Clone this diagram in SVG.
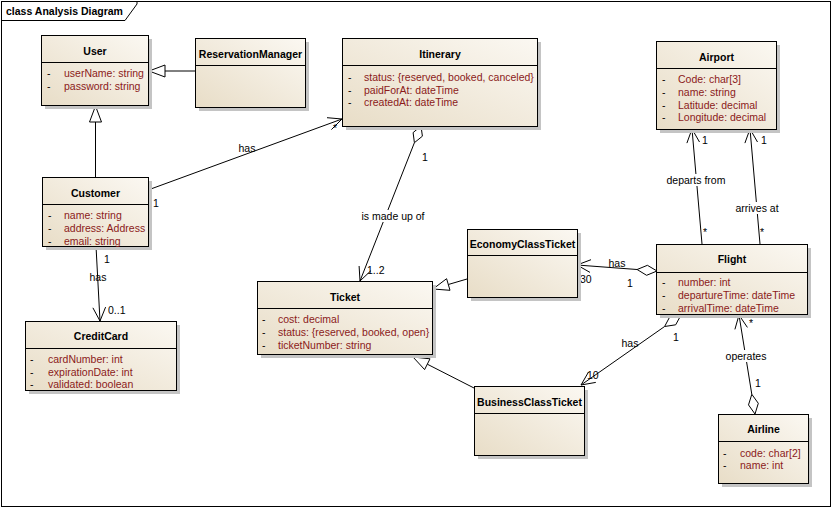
<svg xmlns="http://www.w3.org/2000/svg" width="833" height="509" viewBox="0 0 833 509">
<style>
text{font-family:"Liberation Sans",Arial,sans-serif;font-size:10.5px;fill:#000}
.t{font-weight:bold;text-anchor:middle}
.a{fill:#8B1A1A}
.box{fill:url(#g);stroke:#000;stroke-width:1}
.sh{fill:#C4C4C4}
.div{stroke:#000;stroke-width:1}
.ln{stroke:#000;stroke-width:1;fill:none}
.gen{fill:#fff;stroke:#000;stroke-width:1}
.agg{fill:#fff;stroke:#000;stroke-width:1}
.lbl{text-anchor:middle}
.bg{fill:#fff}
</style>
<defs>
<linearGradient id="g" x1="0" y1="1" x2="1" y2="0">
<stop offset="0" stop-color="#E8DDC7"/>
<stop offset="1" stop-color="#FBF8F2"/>
</linearGradient>
</defs>
<rect x="0" y="0" width="833" height="509" fill="#fff"/>
<g id="frame">
<rect x="1.5" y="1.5" width="829" height="505" fill="none" stroke="#000"/>
<polyline points="1.5,20.5 125,20.5 137,4 137,1.5" fill="none" stroke="#000"/>
<text x="6" y="15" font-weight="bold">class Analysis Diagram</text>
</g>
<g id="connectors">
<!-- ReservationManager -> User -->
<line class="ln" x1="195" y1="71" x2="165" y2="71"/>
<polygon class="gen" points="149,71 165,65 165,77"/>
<!-- Customer -> User -->
<line class="ln" x1="95.5" y1="177" x2="95.5" y2="122"/>
<polygon class="gen" points="95.5,106 89.5,122 101.5,122"/>
<!-- Customer -> Itinerary has -->
<line class="ln" x1="148" y1="190" x2="342" y2="119"/>
<polyline class="ln" points="327,117.7 342,119 331.4,129.6"/>
<text class="lbl" x="247" y="152">has</text>
<text x="153" y="207">1</text>
<text x="333" y="132">*</text>
<!-- Customer -> CreditCard has -->
<line class="ln" x1="96" y1="246" x2="100" y2="321"/>
<polyline class="ln" points="92.9,307.8 100,321 105.6,307.1"/>
<text x="104" y="263">1</text>
<text class="lbl" x="98" y="281">has</text>
<text x="108" y="314">0..1</text>
<!-- Itinerary -> Ticket is made up of -->
<line class="ln" x1="414.4" y1="142.7" x2="360" y2="281"/>
<polygon class="agg" points="421,126 422.4,136.2 414.4,142.7 413.1,132.6"/>
<polyline class="ln" points="359.1,266 360,281 370.9,270.7"/>
<rect class="bg" x="361" y="210" width="64" height="12"/>
<text class="lbl" x="393" y="220">is made up of</text>
<text x="422" y="161">1</text>
<text x="367" y="274">1..2</text>
<!-- EconomyClassTicket -> Ticket -->
<line class="ln" x1="467" y1="279" x2="448.3" y2="284.5"/>
<polygon class="gen" points="433,289 446.6,278.7 450,290.3"/>
<!-- BusinessClassTicket -> Ticket -->
<line class="ln" x1="474" y1="388" x2="427.3" y2="364.2"/>
<polygon class="gen" points="413,357 430,358.8 424.6,369.6"/>
<!-- Flight -> EconomyClassTicket has -->
<line class="ln" x1="637.1" y1="269.5" x2="577" y2="265"/>
<polygon class="agg" points="657,271 647.4,265.3 637.1,269.5 646.6,275.3"/>
<polyline class="ln" points="591,259.7 577,265 590,272.4"/>
<text class="lbl" x="617" y="267">has</text>
<text x="580" y="283">30</text>
<text x="627" y="287">1</text>
<!-- Flight -> BusinessClassTicket has -->
<line class="ln" x1="664.6" y1="326.5" x2="581" y2="385"/>
<polygon class="agg" points="681,315 675.7,324.8 664.6,326.5 669.9,316.6"/>
<polyline class="ln" points="588.5,372 581,385 595.8,382.4"/>
<text class="lbl" x="630" y="347">has</text>
<text x="587" y="379">10</text>
<text x="673" y="341">1</text>
<!-- Flight -> Airport departs from -->
<line class="ln" x1="702" y1="244" x2="692" y2="129"/>
<polyline class="ln" points="686.9,143.1 692,129 699.5,142"/>
<rect class="bg" x="666" y="174" width="61" height="12"/>
<text class="lbl" x="696" y="184">departs from</text>
<text x="702" y="144">1</text>
<text x="703" y="236">*</text>
<!-- Flight -> Airport arrives at -->
<line class="ln" x1="760" y1="244" x2="750" y2="129"/>
<polyline class="ln" points="744.9,143.1 750,129 757.5,142"/>
<rect class="bg" x="733" y="202" width="48" height="12"/>
<text class="lbl" x="757" y="212">arrives at</text>
<text x="761" y="144">1</text>
<text x="760" y="236">*</text>
<!-- Airline -> Flight operates -->
<line class="ln" x1="751.8" y1="394.3" x2="739" y2="315"/>
<polygon class="agg" points="755,414 758.3,403.3 751.8,394.3 748.5,404.9"/>
<polyline class="ln" points="734.9,329.4 739,315 747.4,327.4"/>
<rect class="bg" x="724" y="350" width="45" height="12"/>
<text class="lbl" x="746" y="360">operates</text>
<text x="749" y="327">*</text>
<text x="755" y="387">1</text>
</g>
<g id="User">
<rect class="sh" x="45" y="39" width="107" height="70"/>
<rect class="box" x="41.5" y="35.5" width="107" height="70"/>
<line class="div" x1="41.5" y1="62.5" x2="148.5" y2="62.5"/>
<text class="t" x="95" y="55">User</text>
<text x="47" y="77">-</text><text class="a" x="64" y="77">userName: string</text>
<text x="47" y="90">-</text><text class="a" x="64" y="90">password: string</text>
</g>
<g id="ReservationManager">
<rect class="sh" x="199" y="42" width="110" height="69"/>
<rect class="box" x="195.5" y="38.5" width="110" height="69"/>
<line class="div" x1="195.5" y1="65.5" x2="305.5" y2="65.5"/>
<text class="t" x="250.5" y="58">ReservationManager</text>
</g>
<g id="Itinerary">
<rect class="sh" x="346" y="42" width="195" height="88"/>
<rect class="box" x="342.5" y="38.5" width="195" height="88"/>
<line class="div" x1="342.5" y1="65.5" x2="537.5" y2="65.5"/>
<text class="t" x="440" y="58">Itinerary</text>
<text x="348" y="81">-</text><text class="a" x="364" y="81">status: {reserved, booked, canceled}</text>
<text x="348" y="93.5">-</text><text class="a" x="364" y="93.5">paidForAt: dateTime</text>
<text x="348" y="106">-</text><text class="a" x="364" y="106">createdAt: dateTime</text>
</g>
<g id="Airport">
<rect class="sh" x="660" y="45" width="120" height="88"/>
<rect class="box" x="656.5" y="41.5" width="120" height="88"/>
<line class="div" x1="656.5" y1="68.5" x2="776.5" y2="68.5"/>
<text class="t" x="716.5" y="61">Airport</text>
<text x="662" y="83">-</text><text class="a" x="678" y="83">Code: char[3]</text>
<text x="662" y="96">-</text><text class="a" x="678" y="96">name: string</text>
<text x="662" y="108.5">-</text><text class="a" x="678" y="108.5">Latitude: decimal</text>
<text x="662" y="121">-</text><text class="a" x="678" y="121">Longitude: decimal</text>
</g>
<g id="Customer">
<rect class="sh" x="46" y="181" width="106" height="69"/>
<rect class="box" x="42.5" y="177.5" width="106" height="69"/>
<line class="div" x1="42.5" y1="204.5" x2="148.5" y2="204.5"/>
<text class="t" x="95.5" y="197">Customer</text>
<text x="48" y="219">-</text><text class="a" x="64" y="219">name: string</text>
<text x="48" y="232">-</text><text class="a" x="64" y="232">address: Address</text>
<text x="48" y="244.5">-</text><text class="a" x="64" y="244.5">email: string</text>
</g>
<g id="CreditCard">
<rect class="sh" x="29" y="325" width="151" height="69"/>
<rect class="box" x="25.5" y="321.5" width="151" height="69"/>
<line class="div" x1="25.5" y1="348.5" x2="176.5" y2="348.5"/>
<text class="t" x="101" y="340">CreditCard</text>
<text x="30" y="362.5">-</text><text class="a" x="48" y="362.5">cardNumber: int</text>
<text x="30" y="375.5">-</text><text class="a" x="48" y="375.5">expirationDate: int</text>
<text x="30" y="388">-</text><text class="a" x="48" y="388">validated: boolean</text>
</g>
<g id="Ticket">
<rect class="sh" x="261" y="285" width="175" height="73"/>
<rect class="box" x="257.5" y="281.5" width="175" height="73"/>
<line class="div" x1="257.5" y1="308.5" x2="432.5" y2="308.5"/>
<text class="t" x="345" y="301">Ticket</text>
<text x="262" y="323">-</text><text class="a" x="278" y="323">cost: decimal</text>
<text x="262" y="336">-</text><text class="a" x="278" y="336">status: {reserved, booked, open}</text>
<text x="262" y="349">-</text><text class="a" x="278" y="349">ticketNumber: string</text>
</g>
<g id="EconomyClassTicket">
<rect class="sh" x="471" y="233" width="110" height="68"/>
<rect class="box" x="467.5" y="229.5" width="110" height="68"/>
<line class="div" x1="467.5" y1="255.5" x2="577.5" y2="255.5"/>
<text class="t" x="522.5" y="248">EconomyClassTicket</text>
</g>
<g id="Flight">
<rect class="sh" x="660" y="248" width="151" height="70"/>
<rect class="box" x="656.5" y="244.5" width="151" height="70"/>
<line class="div" x1="656.5" y1="272.5" x2="807.5" y2="272.5"/>
<text class="t" x="732" y="263">Flight</text>
<text x="662" y="286">-</text><text class="a" x="678" y="286">number: int</text>
<text x="662" y="299">-</text><text class="a" x="678" y="299">departureTime: dateTime</text>
<text x="662" y="312">-</text><text class="a" x="678" y="312">arrivalTime: dateTime</text>
</g>
<g id="BusinessClassTicket">
<rect class="sh" x="478" y="390" width="110" height="69"/>
<rect class="box" x="474.5" y="386.5" width="110" height="69"/>
<line class="div" x1="474.5" y1="413.5" x2="584.5" y2="413.5"/>
<text class="t" x="529.5" y="406">BusinessClassTicket</text>
</g>
<g id="Airline">
<rect class="sh" x="722" y="418" width="90" height="69"/>
<rect class="box" x="718.5" y="414.5" width="90" height="69"/>
<line class="div" x1="718.5" y1="441.5" x2="808.5" y2="441.5"/>
<text class="t" x="763.5" y="433">Airline</text>
<text x="723" y="457">-</text><text class="a" x="740" y="457">code: char[2]</text>
<text x="723" y="469">-</text><text class="a" x="740" y="469">name: int</text>
</g>
</svg>
